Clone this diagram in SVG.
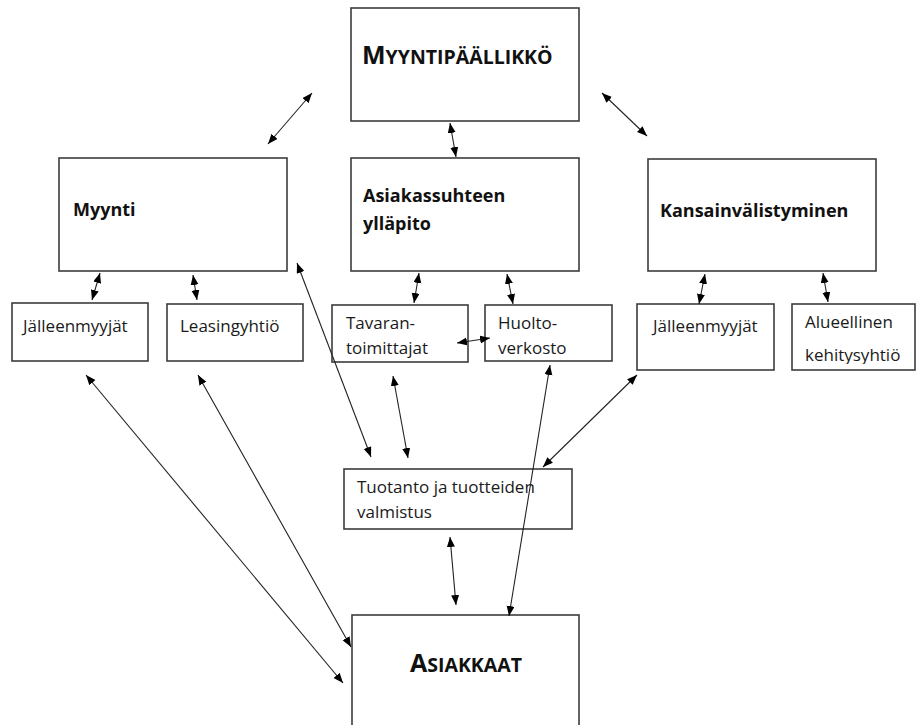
<svg xmlns="http://www.w3.org/2000/svg" width="917" height="725" viewBox="0 0 917 725">
<defs>
<style>
.box{fill:#fff;stroke:#3c3c3c;stroke-width:1.6}
.t{font-family:"Open Sans","Noto Sans","Liberation Sans",sans-serif;font-size:17px;fill:#1a1a1a}
.b{font-family:"Open Sans","Noto Sans","Liberation Sans",sans-serif;font-size:18px;font-weight:bold;fill:#111}
.big{font-size:25px}
.sc{font-size:19.5px}
.c line{stroke:#222;stroke-width:1.1;marker-start:url(#ah);marker-end:url(#ah)}
</style>
<marker id="ah" markerUnits="userSpaceOnUse" markerWidth="11" markerHeight="9" refX="10" refY="4" orient="auto-start-reverse">
<path d="M0,0 L10,4 L0,8 z" fill="#000"/>
</marker>
<clipPath id="clipA"><rect x="792" y="304" width="123" height="60"/></clipPath>
</defs>
<rect width="917" height="725" fill="#fff"/>

<g id="myyntipaallikko">
<rect class="box" x="351" y="8" width="228" height="113"/>
<text class="b" x="362" y="64"><tspan class="big">M</tspan><tspan class="sc">YYNTIPÄÄLLIKKÖ</tspan></text>
</g>

<g id="myynti">
<rect class="box" x="59" y="158" width="228" height="113"/>
<text class="b" x="73" y="216">Myynti</text>
</g>

<g id="asiakassuhde">
<rect class="box" x="351" y="158" width="228" height="113"/>
<text class="b" x="363" y="202">Asiakassuhteen</text>
<text class="b" x="363" y="230">ylläpito</text>
</g>

<g id="kansainvalistyminen">
<rect class="box" x="648" y="159" width="228" height="112"/>
<text class="b" x="660" y="217">Kansainvälistyminen</text>
</g>

<g id="jalleenmyyjat1">
<rect class="box" x="12" y="303" width="136" height="58"/>
<text class="t" x="23" y="332">Jälleenmyyjät</text>
</g>

<g id="leasingyhtio">
<rect class="box" x="167" y="304" width="136" height="57"/>
<text class="t" x="180" y="332">Leasingyhtiö</text>
</g>

<g id="tavarantoimittajat">
<rect class="box" x="332" y="305" width="136" height="57"/>
<text class="t" x="346" y="329">Tavaran-</text>
<text class="t" x="346" y="354">toimittajat</text>
</g>

<g id="huoltoverkosto">
<rect class="box" x="485" y="305" width="127" height="56"/>
<text class="t" x="498" y="329">Huolto-</text>
<text class="t" x="498" y="354">verkosto</text>
</g>

<g id="jalleenmyyjat2">
<rect class="box" x="637" y="304" width="137" height="66"/>
<text class="t" x="653" y="332">Jälleenmyyjät</text>
</g>

<g id="alueellinen">
<rect class="box" x="792" y="304" width="123" height="66"/>
<g clip-path="url(#clipA)">
<text class="t" x="805" y="328">Alueellinen</text>
<text class="t" x="805" y="361">kehitysyhtiö</text>
</g>
</g>

<g id="tuotanto">
<rect class="box" x="344" y="469" width="228" height="60"/>
<text class="t" x="357" y="493">Tuotanto ja tuotteiden</text>
<text class="t" x="357" y="518">valmistus</text>
</g>

<g id="asiakkaat">
<rect class="box" x="352" y="615" width="227" height="130"/>
<text class="b" x="410" y="672"><tspan class="big">A</tspan><tspan class="sc">SIAKKAAT</tspan></text>
</g>

<g id="connectors" class="c">
<line x1="312" y1="93" x2="268" y2="144"/>
<line x1="450" y1="123" x2="456" y2="157"/>
<line x1="602" y1="93" x2="647" y2="136"/>
<line x1="100" y1="273" x2="92" y2="300"/>
<line x1="193" y1="275" x2="197" y2="300"/>
<line x1="419" y1="273" x2="414" y2="303"/>
<line x1="507" y1="274" x2="513" y2="304"/>
<line x1="457" y1="343" x2="490" y2="338"/>
<line x1="705" y1="274" x2="699" y2="304"/>
<line x1="823" y1="273" x2="828" y2="302"/>
<line x1="86" y1="375" x2="343" y2="683"/>
<line x1="198" y1="375" x2="351" y2="647"/>
<line x1="297" y1="263" x2="371" y2="457"/>
<line x1="393" y1="376" x2="408" y2="458"/>
<line x1="550" y1="365" x2="509" y2="616"/>
<line x1="637" y1="375" x2="543" y2="467"/>
<line x1="450" y1="537" x2="456" y2="605"/>
</g>
</svg>
